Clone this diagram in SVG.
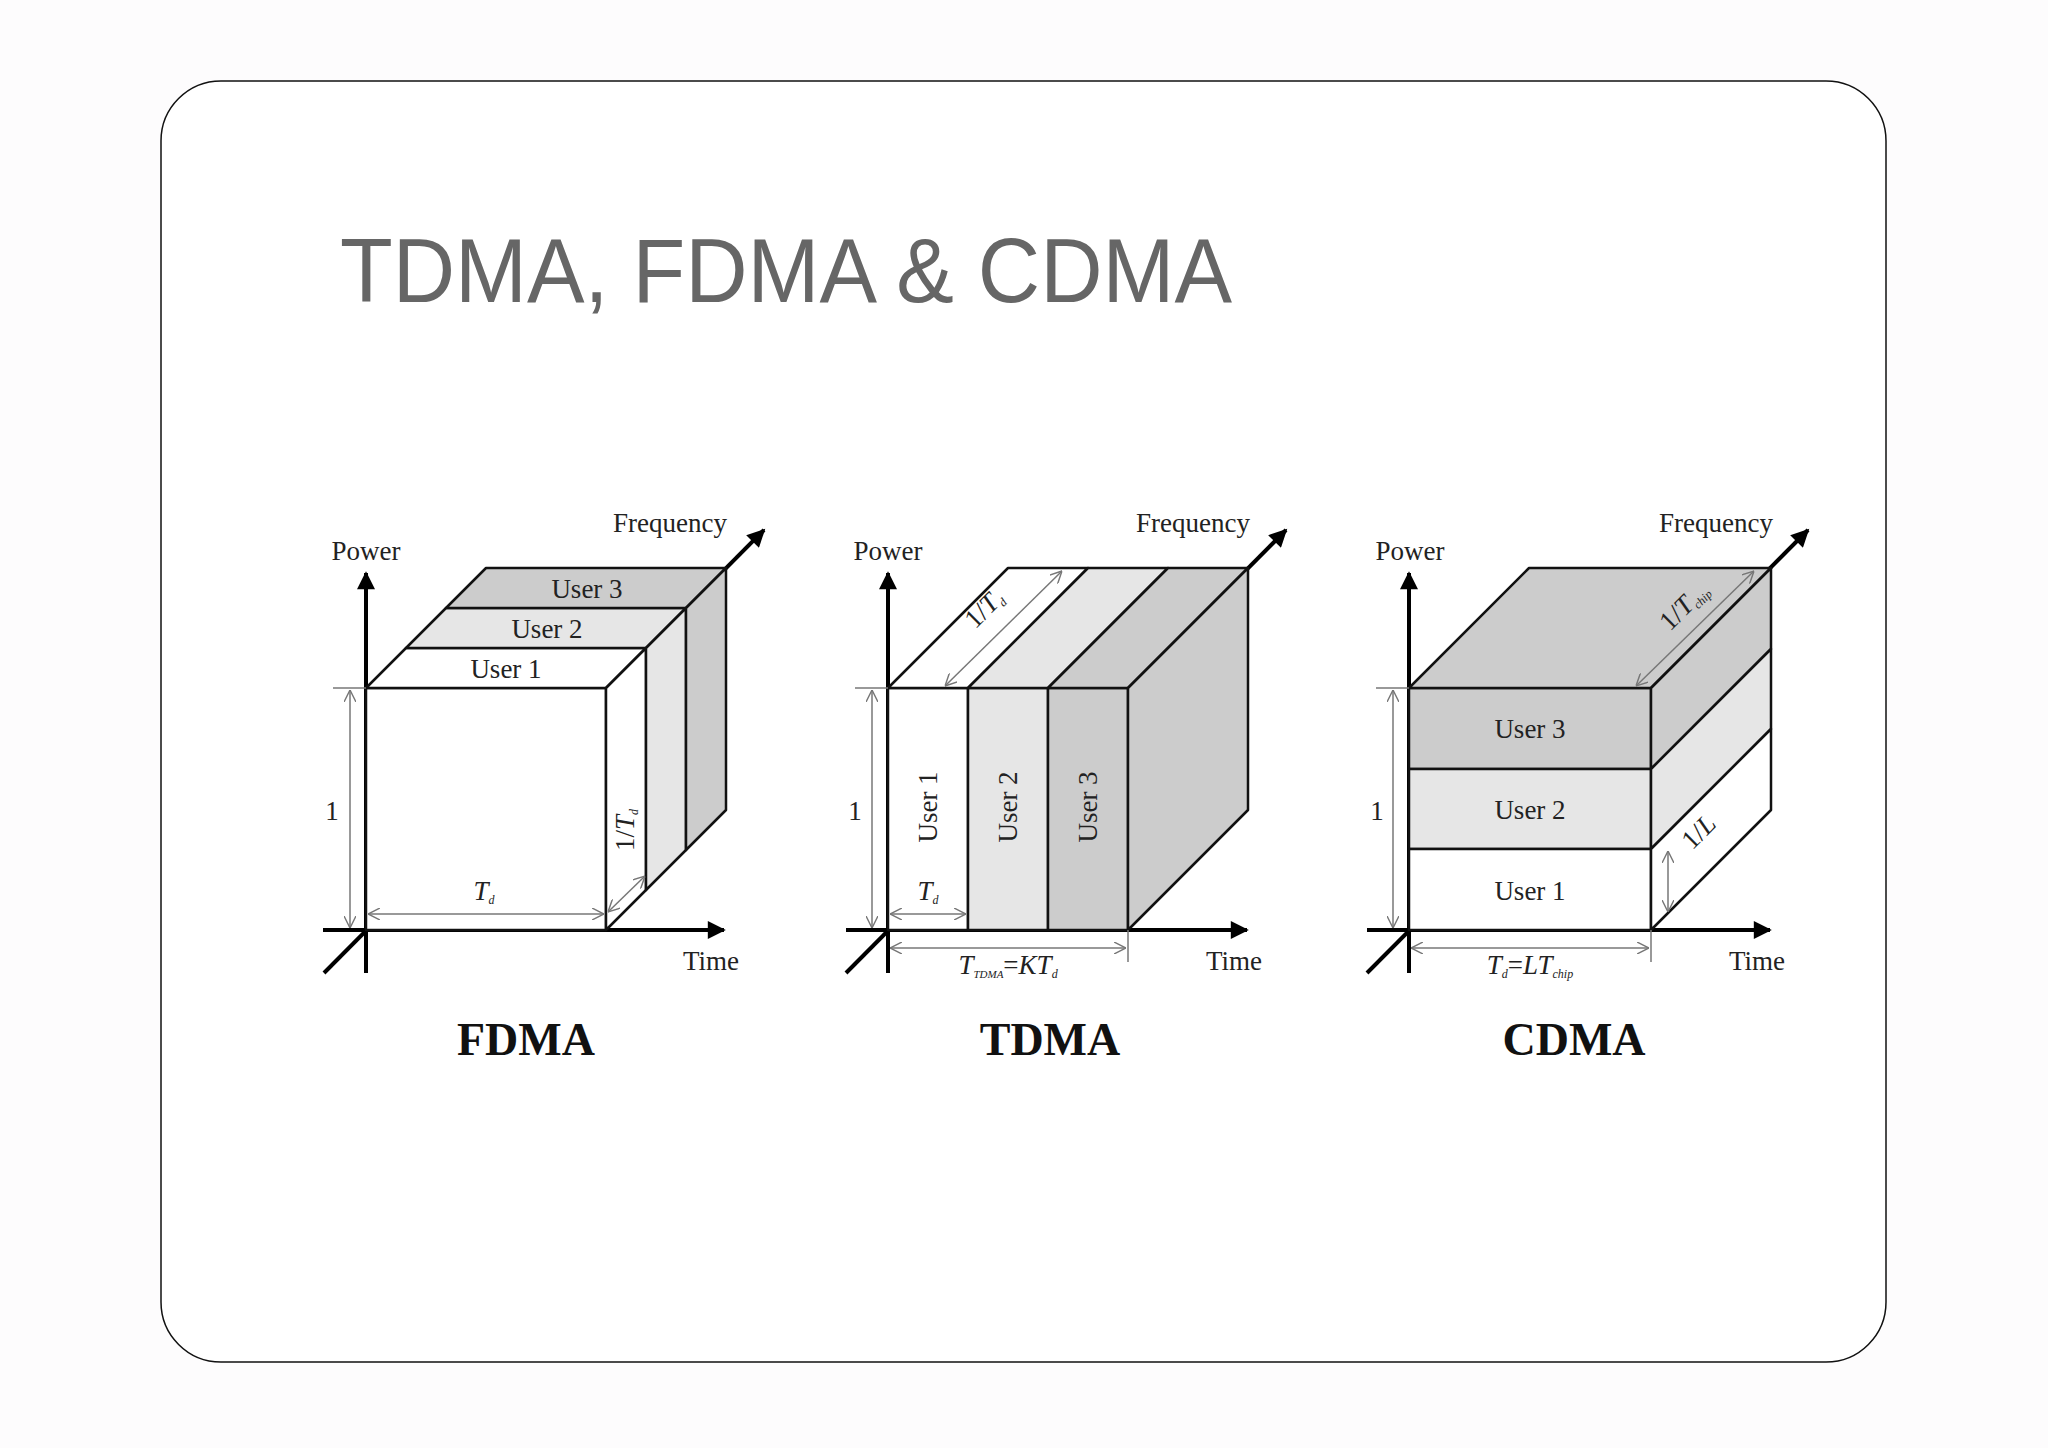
<svg xmlns="http://www.w3.org/2000/svg" width="2048" height="1448" viewBox="0 0 2048 1448">
<style>
.t{font-family:"Liberation Serif","DejaVu Serif",serif;fill:#222;font-size:27px}
.i{font-style:italic}
.b{font-family:"Liberation Serif","DejaVu Serif",serif;font-weight:bold;font-size:46px;fill:#111}
.f{stroke:#111;stroke-width:2.5;stroke-linejoin:round}
.ax{stroke:#000;stroke-width:4;fill:none}
.d{stroke:#777;stroke-width:1.5;fill:none}
</style>
<defs>
<marker id="ah" viewBox="0 0 10 10" refX="9" refY="5" markerWidth="22" markerHeight="18" markerUnits="userSpaceOnUse" orient="auto"><path d="M0,0 L10,5 L0,10 z" fill="#000"/></marker>
<marker id="da" viewBox="0 0 10 10" refX="10" refY="5" markerWidth="12" markerHeight="12" markerUnits="userSpaceOnUse" orient="auto-start-reverse"><path d="M0,0 L10,5 L0,10" fill="none" stroke="#777" stroke-width="1.2"/></marker>
</defs>
<rect width="2048" height="1448" fill="#fdfcfd"/>
<rect x="161" y="81" width="1725" height="1281" rx="60" fill="#fff" stroke="#111" stroke-width="1.5"/>
<text x="340" y="302" font-family="Liberation Sans,Arial,sans-serif" font-size="90" fill="#666" textLength="892" lengthAdjust="spacingAndGlyphs">TDMA, FDMA &amp; CDMA</text>

<g id="fdma">
<line class="ax" x1="366" y1="973" x2="366" y2="573" marker-end="url(#ah)"/>
<line class="ax" x1="323" y1="930" x2="724" y2="930" marker-end="url(#ah)"/>
<line class="ax" x1="324" y1="973" x2="764" y2="530" marker-end="url(#ah)"/>
<g class="f">
<polygon points="366,688 606,688 606,930 366,930" fill="#fff"/>
<polygon points="366,688 406,648 646,648 606,688" fill="#fff"/>
<polygon points="406,648 446,608 686,608 646,648" fill="#e6e6e6"/>
<polygon points="446,608 486,568 726,568 686,608" fill="#cccccc"/>
<polygon points="606,688 646,648 646,890 606,930" fill="#fff"/>
<polygon points="646,648 686,608 686,850 646,890" fill="#e6e6e6"/>
<polygon points="686,608 726,568 726,810 686,850" fill="#cccccc"/>
</g>
<text class="t" x="506" y="678" text-anchor="middle">User 1</text>
<text class="t" x="547" y="638" text-anchor="middle">User 2</text>
<text class="t" x="587" y="598" text-anchor="middle">User 3</text>
<line class="d" x1="333" y1="688" x2="366" y2="688"/>
<line class="d" x1="350" y1="690" x2="350" y2="928" marker-start="url(#da)" marker-end="url(#da)"/>
<text class="t" x="332" y="820" text-anchor="middle">1</text>
<line class="d" x1="368" y1="914" x2="604" y2="914" marker-start="url(#da)" marker-end="url(#da)"/>
<text class="t i" x="484" y="900" text-anchor="middle">T<tspan font-size="12" dy="4">d</tspan></text>
<line class="d" x1="608" y1="912" x2="645" y2="876" marker-start="url(#da)" marker-end="url(#da)"/>
<text class="t" transform="translate(634,830) rotate(-90)" text-anchor="middle">1/<tspan class="i">T</tspan><tspan class="i" font-size="12" dy="4">d</tspan></text>
<text class="t" x="366" y="560" text-anchor="middle">Power</text>
<text class="t" x="670" y="532" text-anchor="middle">Frequency</text>
<text class="t" x="711" y="970" text-anchor="middle">Time</text>
<text class="b" x="526" y="1055" text-anchor="middle">FDMA</text>
</g>

<g id="tdma">
<line class="ax" x1="888" y1="973" x2="888" y2="573" marker-end="url(#ah)"/>
<line class="ax" x1="846" y1="930" x2="1247" y2="930" marker-end="url(#ah)"/>
<line class="ax" x1="846" y1="973" x2="1286" y2="530" marker-end="url(#ah)"/>
<g class="f">
<polygon points="888,688 968,688 968,930 888,930" fill="#fff"/>
<polygon points="968,688 1048,688 1048,930 968,930" fill="#e6e6e6"/>
<polygon points="1048,688 1128,688 1128,930 1048,930" fill="#cccccc"/>
<polygon points="888,688 1008,568 1088,568 968,688" fill="#fff"/>
<polygon points="968,688 1088,568 1168,568 1048,688" fill="#e6e6e6"/>
<polygon points="1048,688 1168,568 1248,568 1128,688" fill="#cccccc"/>
<polygon points="1128,688 1248,568 1248,810 1128,930" fill="#cccccc"/>
</g>
<text class="t" transform="translate(937,807) rotate(-90)" text-anchor="middle">User 1</text>
<text class="t" transform="translate(1017,807) rotate(-90)" text-anchor="middle">User 2</text>
<text class="t" transform="translate(1097,807) rotate(-90)" text-anchor="middle">User 3</text>
<line class="d" x1="855" y1="688" x2="888" y2="688"/>
<line class="d" x1="872" y1="690" x2="872" y2="928" marker-start="url(#da)" marker-end="url(#da)"/>
<text class="t" x="855" y="820" text-anchor="middle">1</text>
<line class="d" x1="890" y1="914" x2="966" y2="914" marker-start="url(#da)" marker-end="url(#da)"/>
<text class="t i" x="928" y="900" text-anchor="middle">T<tspan font-size="12" dy="4">d</tspan></text>
<line class="d" x1="1128" y1="930" x2="1128" y2="962"/>
<line class="d" x1="890" y1="948" x2="1126" y2="948" marker-start="url(#da)" marker-end="url(#da)"/>
<text class="t i" x="1008" y="974" text-anchor="middle">T<tspan font-size="11" dy="4">TDMA</tspan><tspan font-style="normal" dy="-4">=</tspan>KT<tspan font-size="12" dy="4">d</tspan></text>
<line class="d" x1="945" y1="686" x2="1062" y2="571" marker-start="url(#da)" marker-end="url(#da)"/>
<text class="t" transform="translate(990,615) rotate(-45)" text-anchor="middle">1/<tspan class="i">T</tspan><tspan class="i" font-size="12" dy="4">d</tspan></text>
<text class="t" x="888" y="560" text-anchor="middle">Power</text>
<text class="t" x="1193" y="532" text-anchor="middle">Frequency</text>
<text class="t" x="1234" y="970" text-anchor="middle">Time</text>
<text class="b" x="1050" y="1055" text-anchor="middle">TDMA</text>
</g>

<g id="cdma">
<line class="ax" x1="1409" y1="973" x2="1409" y2="573" marker-end="url(#ah)"/>
<line class="ax" x1="1367" y1="930" x2="1770" y2="930" marker-end="url(#ah)"/>
<line class="ax" x1="1367" y1="973" x2="1808" y2="530" marker-end="url(#ah)"/>
<g class="f">
<polygon points="1409,688 1651,688 1651,769 1409,769" fill="#cccccc"/>
<polygon points="1409,769 1651,769 1651,849 1409,849" fill="#e6e6e6"/>
<polygon points="1409,849 1651,849 1651,930 1409,930" fill="#fff"/>
<polygon points="1409,688 1529,568 1771,568 1651,688" fill="#cccccc"/>
<polygon points="1651,688 1771,568 1771,649 1651,769" fill="#cccccc"/>
<polygon points="1651,769 1771,649 1771,729 1651,849" fill="#e6e6e6"/>
<polygon points="1651,849 1771,729 1771,810 1651,930" fill="#fff"/>
</g>
<text class="t" x="1530" y="738" text-anchor="middle">User 3</text>
<text class="t" x="1530" y="819" text-anchor="middle">User 2</text>
<text class="t" x="1530" y="900" text-anchor="middle">User 1</text>
<line class="d" x1="1376" y1="688" x2="1409" y2="688"/>
<line class="d" x1="1393" y1="690" x2="1393" y2="928" marker-start="url(#da)" marker-end="url(#da)"/>
<text class="t" x="1377" y="820" text-anchor="middle">1</text>
<line class="d" x1="1651" y1="930" x2="1651" y2="962"/>
<line class="d" x1="1411" y1="948" x2="1649" y2="948" marker-start="url(#da)" marker-end="url(#da)"/>
<text class="t i" x="1530" y="974" text-anchor="middle">T<tspan font-size="12" dy="4">d</tspan><tspan font-style="normal" dy="-4">=</tspan>LT<tspan font-size="12" dy="4">chip</tspan></text>
<line class="d" x1="1636" y1="686" x2="1754" y2="571" marker-start="url(#da)" marker-end="url(#da)"/>
<text class="t" transform="translate(1690,612) rotate(-45)" text-anchor="middle">1/<tspan class="i">T</tspan><tspan class="i" font-size="12" dy="4">chip</tspan></text>
<line class="d" x1="1668" y1="851" x2="1668" y2="912" marker-start="url(#da)" marker-end="url(#da)"/>
<text class="t" transform="translate(1705,838) rotate(-45)" text-anchor="middle">1/<tspan class="i">L</tspan></text>
<text class="t" x="1410" y="560" text-anchor="middle">Power</text>
<text class="t" x="1716" y="532" text-anchor="middle">Frequency</text>
<text class="t" x="1757" y="970" text-anchor="middle">Time</text>
<text class="b" x="1574" y="1055" text-anchor="middle">CDMA</text>
</g>
</svg>
